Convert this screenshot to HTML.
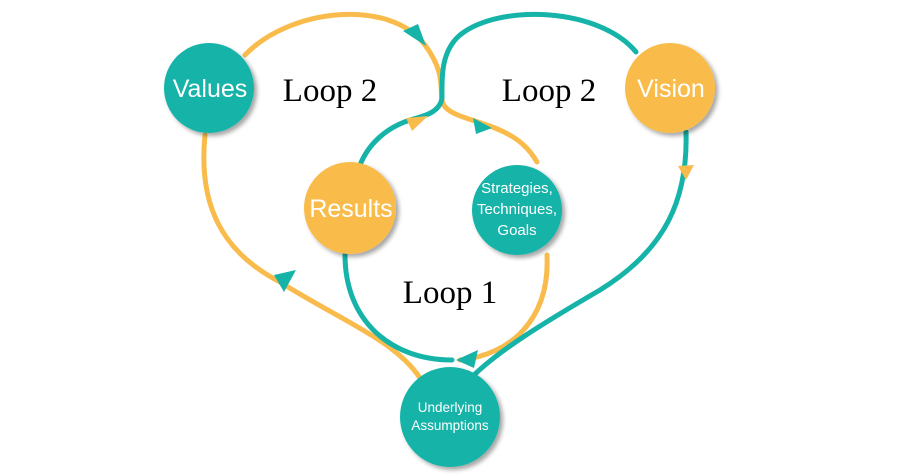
<!DOCTYPE html>
<html><head><meta charset="utf-8"><style>
html,body{margin:0;padding:0;background:#fff;}
svg{display:block}
.n{font-family:"Liberation Sans","DejaVu Sans",sans-serif;fill:#fff;text-anchor:middle}
.l{font-family:"Liberation Serif",serif;font-size:33px;fill:#000;text-anchor:middle}
</style></head><body>
<svg width="900" height="476" viewBox="0 0 900 476" xmlns="http://www.w3.org/2000/svg">
<defs>
<filter id="sh" x="-20%" y="-20%" width="150%" height="150%"><feDropShadow dx="3" dy="3" stdDeviation="2" flood-color="#000" flood-opacity="0.35"/></filter>
</defs>
<g fill="none" stroke-width="5" stroke-linecap="round">
<path d="M245,55 C290,8 390,-2 425,45 C445,72 440,88 442,100 C444,115 470,118 495,128 C520,138 530,150 537,162" stroke="#F9BC4C"/>
<path d="M636,52 C600,8 500,3 460,35 C440,52 442,80 442,98 C440,112 425,116 410,120 C385,128 368,145 360,165" stroke="#16B3A8"/>
<path d="M205,135 C198,205 222,252 280,282 C340,320 395,340 420,378" stroke="#F9BC4C"/>
<path d="M345,255 C345,320 390,360 452,360" stroke="#16B3A8"/>
<path d="M547,255 C550,320 510,355 460,360" stroke="#F9BC4C"/>
<path d="M686,132 C688,200 665,250 600,290 C540,325 500,350 474,375" stroke="#16B3A8"/>
</g>
<g fill="#16B3A8">
<polygon points="403,31 426,46 418,24"/>
<polygon points="473,118 492,128 476,134"/>
<polygon points="296,270 274,275 284,292"/>
<polygon points="456,360 478,350 474,368"/>
</g>
<g fill="#F9BC4C">
<polygon points="406,118 428,116 412,131"/>
<polygon points="678,166 686,180 694,165"/>
</g>
<g filter="url(#sh)">
<circle cx="209" cy="88" r="45" fill="#16B3A8"/>
<circle cx="670" cy="88" r="45" fill="#F9BC4C"/>
<circle cx="350" cy="208" r="46" fill="#F9BC4C"/>
<circle cx="517" cy="210" r="45" fill="#16B3A8"/>
<circle cx="450" cy="417" r="50" fill="#16B3A8"/>
</g>
<text class="n" x="210" y="97" font-size="25">Values</text>
<text class="n" x="671" y="97" font-size="25">Vision</text>
<text class="n" x="351" y="217" font-size="25">Results</text>
<text class="n" x="517" y="193" font-size="15">Strategies,</text>
<text class="n" x="517" y="214" font-size="15">Techniques,</text>
<text class="n" x="517" y="235" font-size="15">Goals</text>
<text class="n" x="450" y="412" font-size="13.5">Underlying</text>
<text class="n" x="450" y="430" font-size="13.5">Assumptions</text>
<text class="l" x="330" y="101">Loop 2</text>
<text class="l" x="549" y="101">Loop 2</text>
<text class="l" x="450" y="303">Loop 1</text>
</svg>
</body></html>
